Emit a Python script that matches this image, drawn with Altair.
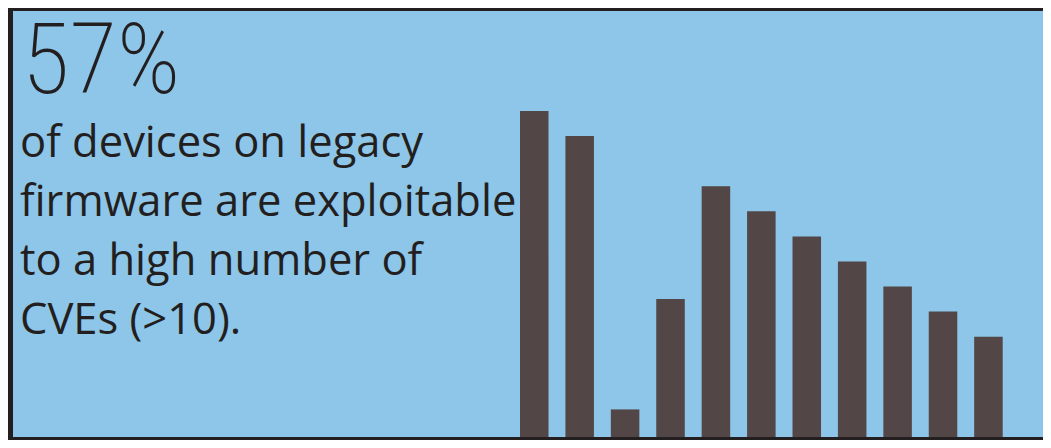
import altair as alt
import pandas as pd

# ---- content -------------------------------------------------------------
HEADLINE = "57%"
BODY_LINES = [
    "of devices on legacy",
    "firmware are exploitable",
    "to a high number of",
    "CVEs (>10).",
]
CATEGORIES = ["1", "2", "3", "4", "5", "6", "7", "8", "9", "10", "11"]
VALUES = [13.0, 12.0, 1.1, 5.5, 10.0, 9.0, 8.0, 7.0, 6.0, 5.0, 4.0]

# ---- style ---------------------------------------------------------------
BG = "#8DC6E8"
INK = "#231F20"
BAR = "#534646"
W, H = 1035, 432
BASE = 429  # pixel row of the bar baseline

df = pd.DataFrame({"cat": CATEGORIES, "value": VALUES})
one = pd.DataFrame({"k": [0]})

bars = alt.Chart(df).mark_bar(color=BAR).encode(
    x=alt.X(
        "cat:O",
        sort=CATEGORIES,
        axis=None,
        scale=alt.Scale(range=[512, 994.7], paddingInner=0.372, paddingOuter=0),
    ),
    y=alt.Y(
        "value:Q",
        axis=None,
        scale=alt.Scale(domain=[0, 17.107], range=[BASE, 0], nice=False, zero=True),
    ),
)

bottom_rule = alt.Chart(one).mark_rule(color=INK, strokeWidth=3).encode(
    x=alt.value(0), x2=alt.value(W), y=alt.value(430.5)
)
top_rule = alt.Chart(one).mark_rule(color=INK, strokeWidth=3).encode(
    x=alt.value(0), x2=alt.value(W), y=alt.value(1.5)
)
left_rule = alt.Chart(one).mark_rule(color=INK, strokeWidth=5).encode(
    x=alt.value(2.5), y=alt.value(0), y2=alt.value(H)
)

headline = alt.Chart(one).mark_text(
    font="'Roboto Condensed', 'Lato'", fontWeight=200, fontSize=98,
    align="left", baseline="alphabetic", color=INK,
).encode(x=alt.value(14), y=alt.value(85), text=alt.value(HEADLINE))

body = alt.Chart(one).mark_text(
    font="Open Sans", fontWeight=400, fontSize=43.5, align="left",
    baseline="alphabetic", color=INK, lineHeight=59,
).encode(x=alt.value(12), y=alt.value(149), text=alt.value(BODY_LINES))

chart = alt.layer(bars, bottom_rule, top_rule, left_rule, headline, body).properties(
    width=W,
    height=H,
    padding=0,
    autosize=alt.AutoSizeParams(type="none"),
    background=BG,
).configure_view(stroke=None)

chart.save("out.html", embed_options={"renderer": "svg", "actions": False})
